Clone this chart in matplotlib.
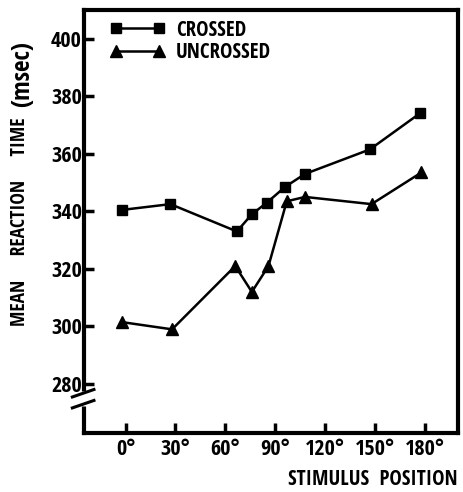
import matplotlib
matplotlib.use("Agg")
import matplotlib.pyplot as plt
from matplotlib.lines import Line2D

# Data (stimulus position in degrees, mean reaction time in msec)
crossed_x = [-2, 27, 67, 76, 85, 96, 108, 147, 177]
crossed_y = [340.5, 342.5, 333, 339, 343, 348.5, 353, 361.5, 374]
uncrossed_x = [-2, 28, 66, 76, 86, 97, 108, 148, 178]
uncrossed_y = [301.5, 299, 321, 312, 321, 343.5, 345, 342.5, 353.5]

xticks = [0, 30, 60, 90, 120, 150, 180]
xtick_labels = ["0°", "30°", "60°", "90°", "120°", "150°", "180°"]
yticks = [280, 300, 320, 340, 360, 380, 400]
series_labels = ["CROSSED", "UNCROSSED"]

FONT = ["Open Sans Condensed", "DejaVu Sans"]
plt.rcParams["font.family"] = FONT
plt.rcParams["font.weight"] = "bold"
plt.rcParams["font.stretch"] = "condensed"

fig = plt.figure(figsize=(4.64, 4.92), dpi=100)
ax = fig.add_axes([0.181, 0.120, 0.806, 0.860])

ax.plot(crossed_x, crossed_y, color="black", lw=1.8, marker="s", ms=6.5,
        label=series_labels[0])
ax.plot(uncrossed_x, uncrossed_y, color="black", lw=1.8, marker="^", ms=8,
        label=series_labels[1])

ax.set_xlim(-25, 200)
ax.set_ylim(263, 410)
ax.set_xticks(xticks)
ax.set_xticklabels(xtick_labels)
ax.set_yticks(yticks)

for s in ax.spines.values():
    s.set_linewidth(3)
ax.tick_params(direction="in", length=7, width=2.5, labelsize=16)
ax.tick_params(axis="x", pad=4)
ax.tick_params(axis="y", pad=1.5)
for lab in ax.get_xticklabels() + ax.get_yticklabels():
    lab.set_fontweight("bold")

# axis break on left spine
ax.plot([-25, -25], [272.5, 277.5], color="white", lw=5, solid_capstyle="butt",
        clip_on=False, zorder=5)
for yb in [273.0, 276.8]:
    ax.plot([-32, -19], [yb - 1.3, yb + 1.3], color="black", lw=2.2,
            clip_on=False, zorder=6)

# legend: line with marker at both ends
h1 = Line2D([0], [0], color="black", lw=1.8, marker="s", ms=6.5)
h2 = Line2D([0], [0], color="black", lw=1.8, marker="^", ms=8)
leg = ax.legend([h1, h2], series_labels, loc="upper left", numpoints=2,
                handlelength=2.65, handletextpad=0.5, frameon=False,
                bbox_to_anchor=(0.07, 0.977), borderaxespad=0, borderpad=0,
                labelspacing=0.08,
                prop={"family": FONT, "weight": "bold", "size": 15,
                      "stretch": "condensed"})

fig.text(0.043, 1 - 222 / 492, "MEAN     REACTION     TIME", rotation=90,
         ha="center", va="center", fontsize=14, fontweight="bold")
fig.text(0.048, 1 - 74 / 492, "(msec)", rotation=90,
         ha="center", va="center", fontsize=18, fontweight="bold")
fig.text(0.987, 0.014, "STIMULUS  POSITION", ha="right", va="baseline",
         fontsize=15, fontweight="bold")

fig.savefig("out.png", dpi=100)
